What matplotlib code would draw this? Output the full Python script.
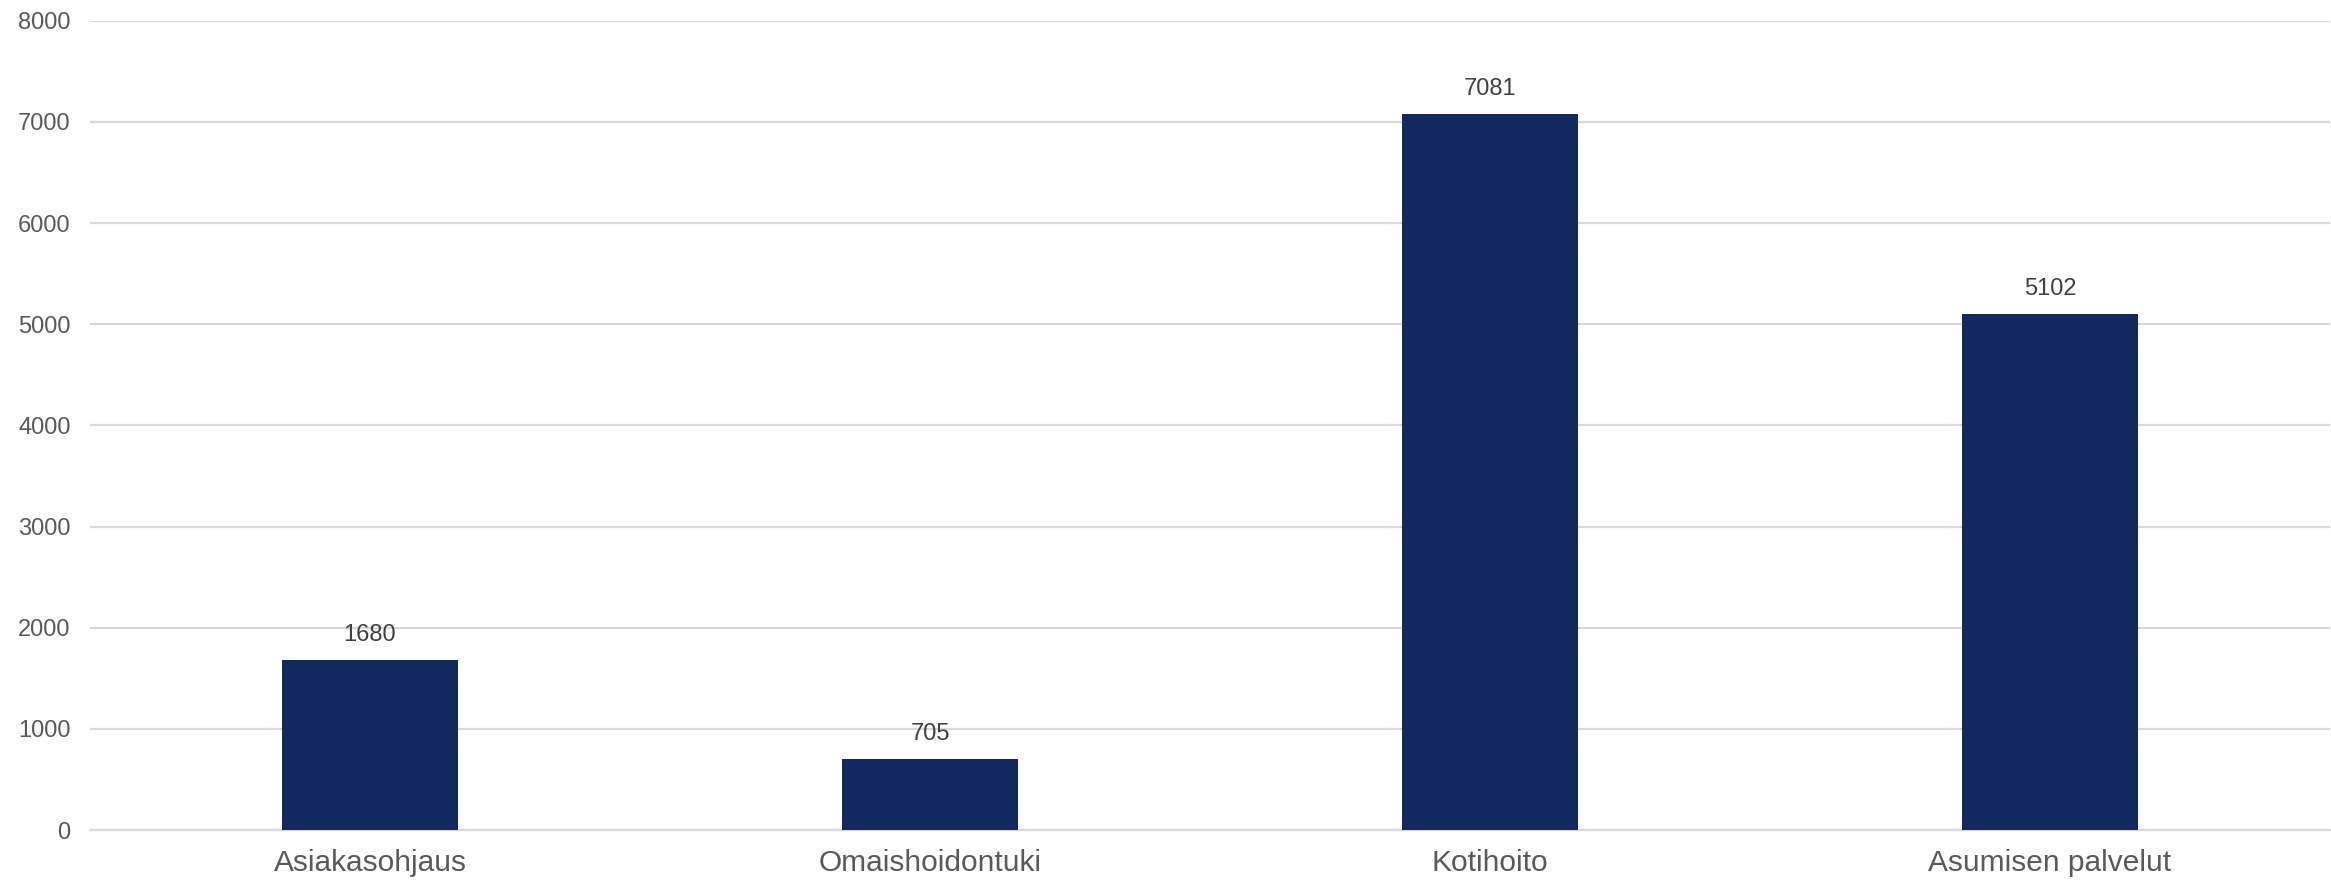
import matplotlib
matplotlib.use("Agg")
import matplotlib.pyplot as plt

categories = ["Asiakasohjaus", "Omaishoidontuki", "Kotihoito", "Asumisen palvelut"]
values = [1680, 705, 7081, 5102]
yticks = [0, 1000, 2000, 3000, 4000, 5000, 6000, 7000, 8000]

plt.rcParams["font.family"] = ["Liberation Sans", "DejaVu Sans"]

fig = plt.figure(figsize=(23.31, 8.88), dpi=100)
ax = fig.add_axes([90 / 2331, 1 - 830 / 888, 2240 / 2331, (830 - 20.7) / 888])

x = list(range(len(categories)))
bars = ax.bar(x, values, width=0.314, color="#12285f", zorder=3)

for xi, v in zip(x, values):
    ax.annotate(f"{v}", (xi, v), xytext=(0, 10), textcoords="offset points",
                ha="center", va="bottom", fontsize=17, color="#404040")

ax.set_xlim(-0.5, len(categories) - 0.5)
ax.set_ylim(0, 8000)
ax.set_yticks(yticks)
ax.set_yticklabels([str(t) for t in yticks])
ax.set_xticks(x)
ax.set_xticklabels(categories)

ax.grid(axis="y", color="#d9d9d9", linewidth=1.6, zorder=0)
for side in ["top", "right", "left"]:
    ax.spines[side].set_visible(False)
ax.spines["bottom"].set_color("#d9d9d9")
ax.spines["bottom"].set_linewidth(1.6)

ax.tick_params(axis="y", length=0, pad=14, labelsize=17, labelcolor="#595959")
ax.tick_params(axis="x", length=0, pad=14, labelsize=21.5, labelcolor="#595959")

fig.savefig("out.png", dpi=100, facecolor="white")
